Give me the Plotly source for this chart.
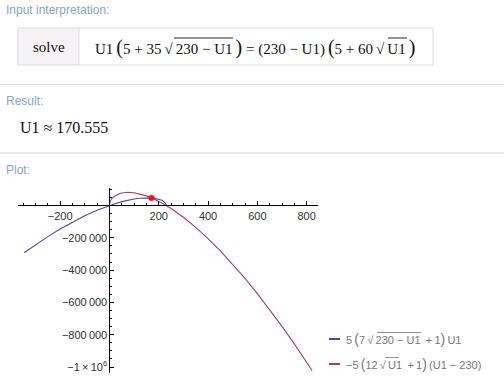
import plotly.graph_objects as go

W, H = 504, 388

# ---- data ----
blue_u = [-346, -300, -250, -200, -150, -100, -50, -25, 0, 25, 50, 80, 100, 120, 140, 150,
          160, 170, 180, 190, 200, 205, 210, 215, 220, 225, 228, 229, 229.5, 229.9, 230]
blue_v = [-292370, -243230, -192955, -146153, -103095, -64081, -29533, -14098, 0, 12654,
          23728, 34692, 40407, 44650, 47187, 47707, 47654, 46938, 45450, 43010, 39340,
          36900, 33921, 30219, 25449, 18733, 12425, 9160, 6828, 3694, 1150]
mag_u = [0, 0.1, 0.5, 2, 5, 10, 20, 30, 40, 50, 60, 75, 100, 125, 150, 175, 200, 225, 250,
         300, 350, 400, 450, 500, 550, 600, 650, 700, 750, 800, 822]
mag_v = [1150, 5507, 10884, 20485, 31309, 42845, 57402, 66729, 73046, 77267, 79858, 81315,
         78650, 70959, 59188, 43931, 25607, 4525, -19074, -73097, -135300, -204850,
         -281115, -363596, -451875, -545639, -644574, -748452, -857038, -970170, -1021350]
root_u = [170.555]
root_v = [46878]

x_ticks = [-200, 200, 400, 600, 800]
x_ticktext = ["\u2212200", "200", "400", "600", "800"]
y_ticks = [-200000, -400000, -600000, -800000, -1000000]
y_ticktext = ["\u2212200\u2009000", "\u2212400\u2009000", "\u2212600\u2009000",
              "\u2212800\u2009000", "\u22121\u2009\u00d7\u200910<sup>6</sup>"]

BLUE = "#4a4aa6"
MAG = "#a83a78"

x_range = [-371, 846]
y_range = [-1037000, 108000]


def px(x):
    return x / W


def py(y):
    return 1 - y / H


def big(ch, size):
    return '<span style="font-size:%dpx">%s</span>' % (size, ch)


xdom = [px(18), px(318)]
ydom = [py(373), py(188)]

# positions of the crossing axes (paper coords of data zero)
x_axis_pos = ydom[0] + (0 - y_range[0]) / (y_range[1] - y_range[0]) * (ydom[1] - ydom[0])
y_axis_pos = xdom[0] + (0 - x_range[0]) / (x_range[1] - x_range[0]) * (xdom[1] - xdom[0])

fig = go.Figure()
fig.add_trace(go.Scatter(x=blue_u, y=blue_v, mode="lines",
                         line=dict(color=BLUE, width=1.1), hoverinfo="skip"))
fig.add_trace(go.Scatter(x=mag_u, y=mag_v, mode="lines",
                         line=dict(color=MAG, width=1.1), hoverinfo="skip"))
fig.add_trace(go.Scatter(x=root_u, y=root_v, mode="markers",
                         marker=dict(color="#e8141c", size=6), hoverinfo="skip", cliponaxis=False))

tickfont = dict(family="Liberation Sans, Arial, sans-serif", size=11, color="#333333")

fig.update_layout(
    width=W, height=H,
    margin=dict(l=0, r=0, t=0, b=0),
    paper_bgcolor="white", plot_bgcolor="rgba(0,0,0,0)",
    showlegend=False,
    xaxis=dict(domain=xdom, range=x_range, anchor="free", position=x_axis_pos,
               showgrid=False, zeroline=False, showline=True, linecolor="black", linewidth=1,
               tickmode="array", tickvals=x_ticks, ticktext=x_ticktext,
               ticks="inside", ticklen=4, tickcolor="black", tickwidth=1,
               minor=dict(dtick=50, tick0=0, ticks="inside", ticklen=2, tickcolor="black", showgrid=False),
               tickfont=tickfont, fixedrange=True),
    yaxis=dict(domain=ydom, range=y_range, anchor="free", position=y_axis_pos,
               showgrid=False, zeroline=False, showline=True, linecolor="black", linewidth=1,
               tickmode="array", tickvals=y_ticks, ticktext=y_ticktext,
               ticks="inside", ticklen=4, tickcolor="black", tickwidth=1,
               minor=dict(dtick=50000, tick0=0, ticks="inside", ticklen=2, tickcolor="black", showgrid=False),
               tickfont=tickfont, fixedrange=True),
)

head_font = dict(family="Liberation Sans, Arial, sans-serif", size=12, color="#84a8c0")
serif = "Liberation Serif, Times New Roman, serif"
sans = "Liberation Sans, Arial, sans-serif"

formula = ("U1\u2009" + big("(", 20) + "5 + 35\u2009\u221a\u2009230 \u2212 U1\u2009" + big(")", 20)
           + " = (230 \u2212 U1)\u2009" + big("(", 20) + "5 + 60\u2009\u221a\u2009U1\u2009" + big(")", 20))
legend_labels = ["5\u2009" + big("(", 14) + "7\u2009\u221a\u2009230 \u2212 U1 \u2009+\u20091" + big(")", 14) + "\u2009U1",
                 "\u22125\u2009" + big("(", 14) + "12\u2009\u221a\u2009U1 \u2009+\u20091" + big(")", 14) + "\u2009(U1 \u2212 230)"]

annotations = [
    dict(text="Input interpretation:", x=px(4), y=py(10), xanchor="left", yanchor="middle",
         font=head_font),
    dict(text="solve", x=px(49), y=py(47), xanchor="center", yanchor="middle",
         font=dict(family=serif, size=15, color="#111")),
    dict(text=formula, x=px(93), y=py(47), xanchor="left", yanchor="middle",
         font=dict(family=serif, size=15, color="#111")),
    dict(text="Result:", x=px(4), y=py(101), xanchor="left", yanchor="middle", font=head_font),
    dict(text="U1 \u2248 170.555", x=px(18), y=py(128), xanchor="left", yanchor="middle",
         font=dict(family=serif, size=16, color="#111")),
    dict(text="Plot:", x=px(4), y=py(170), xanchor="left", yanchor="middle", font=head_font),
]
for lbl, yy in zip(legend_labels, [339, 364]):
    annotations.append(dict(text=lbl, x=px(344), y=py(yy), xanchor="left", yanchor="middle",
                            font=dict(family=sans, size=11, color="#777777")))
for a in annotations:
    a.update(xref="paper", yref="paper", showarrow=False)
fig.update_layout(annotations=annotations)


def hline(x0, x1, y, color, width):
    return dict(type="line", x0=px(x0), x1=px(x1), y0=py(y), y1=py(y),
                line=dict(color=color, width=width))


shapes = [
    # input box
    dict(type="rect", x0=px(18), x1=px(79), y0=py(65), y1=py(28),
         fillcolor="#f6f2f6", line=dict(width=0), layer="below"),
    dict(type="rect", x0=px(18), x1=px(433), y0=py(65), y1=py(28),
         line=dict(color="#dddddd", width=1)),
    dict(type="line", x0=px(79), x1=px(79), y0=py(65), y1=py(28),
         line=dict(color="#dddddd", width=1)),
    # square-root vincula in the formula
    hline(174, 233, 38, "#111", 0.9),
    hline(388, 407, 38, "#111", 0.9),
    # separators
    hline(0, W, 84.5, "#e2e2e2", 1.5),
    hline(0, W, 153, "#e2e2e2", 1.5),
    # legend swatches
    hline(329, 340, 339, BLUE, 2),
    hline(329, 340, 364, MAG, 2),
    # square-root vincula in the legend
    hline(377, 421, 332.5, "#777777", 0.8),
    hline(385, 399, 357.5, "#777777", 0.8),
]
for s in shapes:
    s.update(xref="paper", yref="paper")
fig.update_layout(shapes=shapes)

fig.write_html("out.html", config={"displayModeBar": False})
